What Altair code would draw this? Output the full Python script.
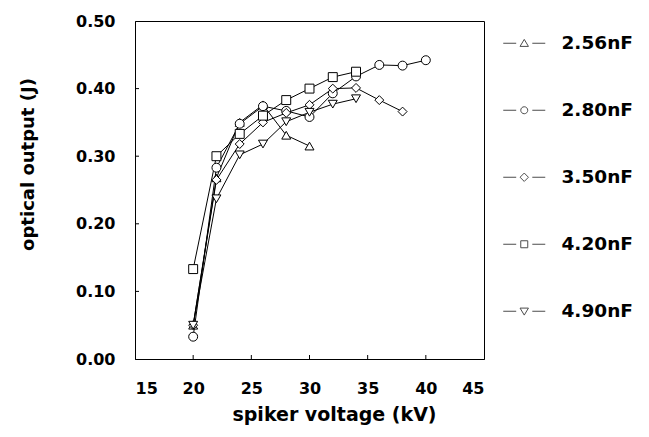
import altair as alt
import pandas as pd

# ---- data ----
voltage = [20, 22, 24, 26, 28, 30, 32, 34, 36, 38, 40]
series_names = ["2.56nF", "2.80nF", "3.50nF", "4.20nF", "4.90nF"]
out_256 = [0.050, 0.268, 0.350, 0.376, 0.331, 0.315]
out_280 = [0.033, 0.283, 0.348, 0.374, 0.367, 0.358, 0.393, 0.418, 0.435, 0.434, 0.442]
out_350 = [0.050, 0.265, 0.318, 0.350, 0.364, 0.376, 0.400, 0.401, 0.383, 0.366]
out_420 = [0.133, 0.300, 0.333, 0.360, 0.383, 0.400, 0.417, 0.425]
out_490 = [0.050, 0.237, 0.302, 0.318, 0.351, 0.365, 0.377, 0.385]

x_ticks = [15, 20, 25, 30, 35, 40, 45]
y_ticks = [0.0, 0.1, 0.2, 0.3, 0.4, 0.5]
inner_x_ticks = [20, 25, 30, 35, 40]
inner_y_ticks = [0.1, 0.2, 0.3, 0.4]

rows = []
for name, vals in zip(series_names, [out_256, out_280, out_350, out_420, out_490]):
    for i, v in enumerate(vals):
        rows.append({"kV": voltage[i], "J": v, "series": name, "order": i})
df = pd.DataFrame(rows)

FONT = "DejaVu Sans"
PLOT_W, PLOT_H = 349, 338

plot_shapes = ["triangle-up", "circle", "diamond", "square", "triangle-down"]
arms = "M-6,0H-2.3M2.3,0H6"
legend_paths = [
    arms + "M0,-1.1L1.2,0.9L-1.2,0.9Z",
    arms + "M1,0A1,1,0,1,1,-1,0A1,1,0,1,1,1,0Z",
    arms + "M0,-1.2L1.2,0L0,1.2L-1.2,0Z",
    arms + "M-1,-1H1V1H-1Z",
    arms + "M0,1.1L1.2,-0.9L-1.2,-0.9Z",
]

xscale = alt.Scale(domain=[15, 45], nice=False, zero=False)
yscale = alt.Scale(domain=[0, 0.5], nice=False)
xaxis = alt.Axis(values=x_ticks, format="d", title="spiker voltage (kV)", grid=False,
                 ticks=False, tickSize=0, labelPadding=21, titleX=199, titleY=61,
                 titleBaseline="alphabetic", titleFontSize=19)
yaxis = alt.Axis(values=y_ticks, format=".2f", title="optical output (J)", grid=False,
                 ticks=False, tickSize=0, labelPadding=20, titleX=-102, titleY=143,
                 titleBaseline="alphabetic", titleFontSize=18)

x_enc = alt.X("kV:Q", scale=xscale, axis=xaxis)
y_enc = alt.Y("J:Q", scale=yscale, axis=yaxis)

lines = alt.Chart(df).mark_line(color="black", strokeWidth=1).encode(
    x=x_enc, y=y_enc, detail="series:N", order="order:Q")

points = alt.Chart(df).mark_point(filled=True, fill="white", stroke="black",
                                  strokeWidth=1, size=80, opacity=1).encode(
    x=x_enc, y=y_enc,
    shape=alt.Shape("series:N", scale=alt.Scale(domain=series_names, range=plot_shapes),
                    legend=None))

legend_layer = alt.Chart(df).transform_filter("datum.J > 1").mark_point(
    filled=False, color="black", strokeWidth=1).encode(
    x=x_enc, y=y_enc,
    shape=alt.Shape("series:N", scale=alt.Scale(domain=series_names, range=legend_paths),
                    legend=alt.Legend(title=None, orient="none", legendX=359, legendY=13)))

xt = alt.Chart(pd.DataFrame({"kV": inner_x_ticks})).mark_rule(color="black", strokeWidth=1).encode(
    x=x_enc, y=alt.value(PLOT_H), y2=alt.value(PLOT_H - 4))
yt = alt.Chart(pd.DataFrame({"J": inner_y_ticks})).mark_rule(color="black", strokeWidth=1).encode(
    y=y_enc, x=alt.value(0), x2=alt.value(4))

chart = alt.layer(lines, points, legend_layer, xt, yt).resolve_scale(
    shape="independent"
).properties(
    width=PLOT_W, height=PLOT_H,
    autosize=alt.AutoSizeParams(type="none"),
    padding={"left": 135, "top": 21, "right": 165, "bottom": 78},
    background="white",
).configure_view(
    stroke="black", strokeWidth=1
).configure_axis(
    domainColor="black", domainWidth=1,
    labelFont=FONT, labelFontSize=16, labelFontWeight="bold", labelColor="black",
    titleFont=FONT, titleFontWeight="bold", titleColor="black",
).configure_legend(
    labelFont=FONT, labelFontSize=18.5, labelFontWeight="bold", labelColor="black",
    symbolSize=49, symbolOffset=21, labelOffset=28, rowPadding=48, padding=0,
    symbolStrokeWidth=1, symbolStrokeColor="black", symbolFillColor="white",
)

chart.save("out.html", embed_options={"renderer": "svg", "actions": False})
